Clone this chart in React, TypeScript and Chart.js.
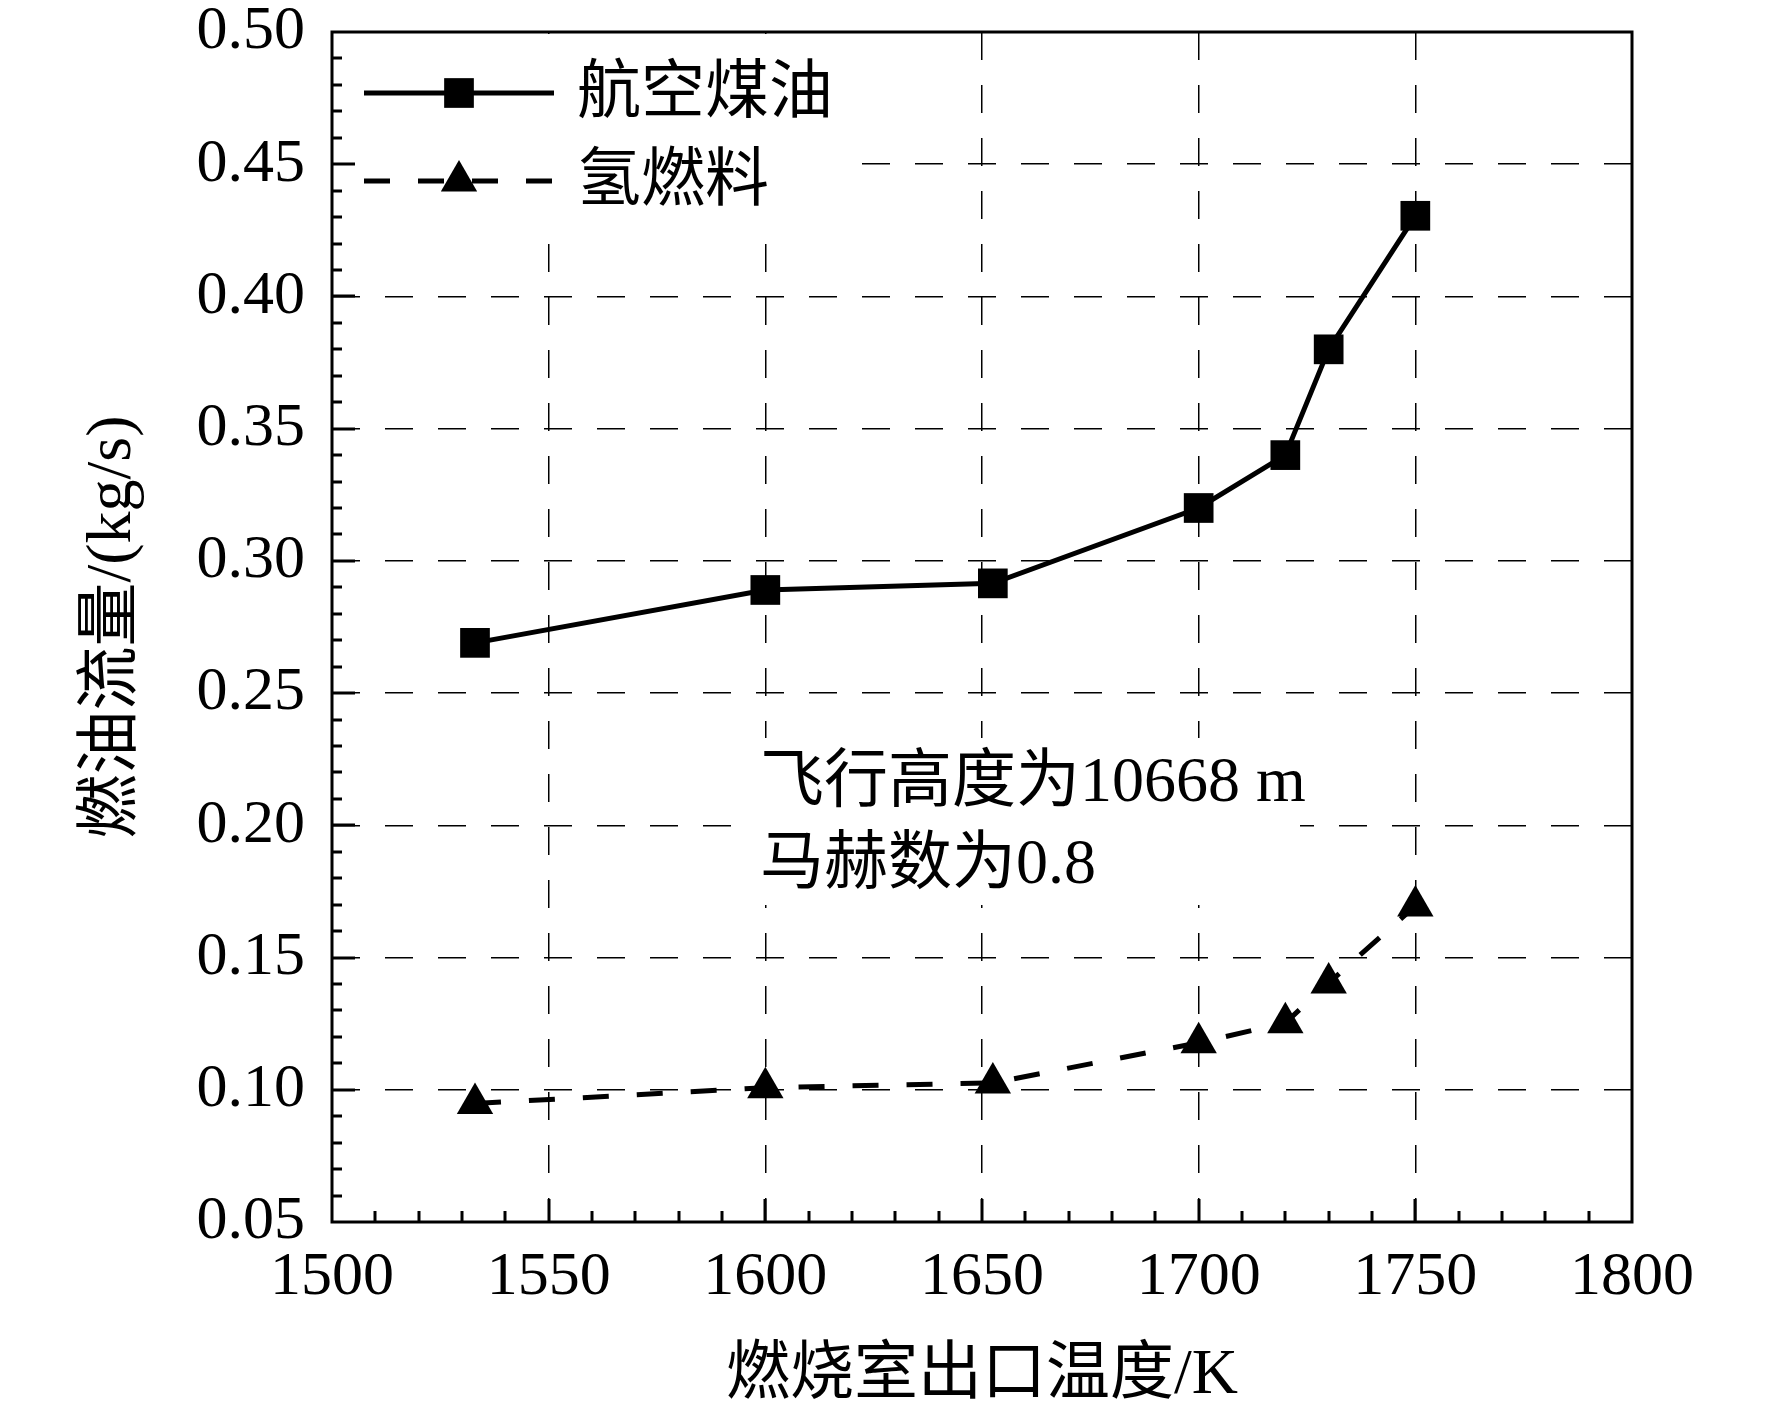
import React, { useEffect, useRef } from "react";
import { Chart, registerables } from "chart.js";

Chart.register(...registerables);

// ---------------- data ----------------
const temperatures = [1533, 1600, 1652.5, 1700, 1720, 1730, 1750];
const jetFuelFlow = [0.269, 0.289, 0.2915, 0.32, 0.34, 0.38, 0.4305];
const hydrogenFlow = [0.0948, 0.1008, 0.1026, 0.1178, 0.1253, 0.1404, 0.1695];

const seriesNames = ["航空煤油", "氢燃料"];
const xTitle = "燃烧室出口温度/K";
const yTitle = "燃油流量/(kg/s)";
const noteLines = ["飞行高度为10668 m", "马赫数为0.8"];

const xMin = 1500;
const xMax = 1800;
const xStep = 50;
const xMinorStep = 10;
const yMin = 0.05;
const yMax = 0.5;
const yStep = 0.05;
const yMinorStep = 0.01;

const FONT = '"Liberation Serif", "Times New Roman", "Noto Sans CJK SC", serif';

export default function App() {
  const canvasRef = useRef<HTMLCanvasElement | null>(null);

  useEffect(() => {
    const canvas = canvasRef.current;
    if (!canvas) return;

    const drawSquare = (ctx: CanvasRenderingContext2D, x: number, y: number, s: number) => {
      ctx.fillRect(x - s / 2, y - s / 2, s, s);
    };
    const drawTriangle = (ctx: CanvasRenderingContext2D, x: number, y: number, r: number) => {
      ctx.beginPath();
      ctx.moveTo(x, y - r);
      ctx.lineTo(x + r * Math.sin((2 * Math.PI) / 3), y - r * Math.cos((2 * Math.PI) / 3));
      ctx.lineTo(x - r * Math.sin((2 * Math.PI) / 3), y - r * Math.cos((2 * Math.PI) / 3));
      ctx.closePath();
      ctx.fill();
    };

    const decorPlugin = {
      id: "decor",
      beforeDatasetsDraw(chart: any) {
        const { ctx, chartArea } = chart;
        const { left, top } = chartArea;
        ctx.save();
        ctx.fillStyle = "#ffffff";
        // legend background
        ctx.fillRect(left + 4, top + 2, 524, 204);
        // note background
        ctx.fillRect(left + 423, top + 706, 545, 167);
        ctx.restore();
      },
      afterDatasetsDraw(chart: any) {
        const { ctx, chartArea, scales } = chart;
        const { left, right, top, bottom } = chartArea;
        const xs = scales.x;
        const ys = scales.y;
        ctx.save();
        // frame
        ctx.strokeStyle = "#000";
        ctx.lineWidth = 3;
        ctx.setLineDash([]);
        ctx.strokeRect(left, top, right - left, bottom - top);

        // inward ticks on x axis
        ctx.lineWidth = 3;
        ctx.beginPath();
        for (let v = xMin + xMinorStep; v < xMax; v += xMinorStep) {
          const px = Math.round(xs.getPixelForValue(v));
          const major = Math.abs(v / xStep - Math.round(v / xStep)) < 1e-6;
          const len = major ? 23 : 11;
          ctx.moveTo(px, bottom);
          ctx.lineTo(px, bottom - len);
        }
        // inward ticks on y axis
        const nY = Math.round((yMax - yMin) / yMinorStep);
        for (let i = 1; i < nY; i++) {
          const v = yMin + i * yMinorStep;
          const py = Math.round(ys.getPixelForValue(v));
          const major = i % Math.round(yStep / yMinorStep) === 0;
          const len = major ? 23 : 10;
          ctx.moveTo(left, py);
          ctx.lineTo(left + len, py);
        }
        ctx.stroke();

        // legend
        const ds = chart.data.datasets;
        const rows = [top + 61, top + 149];
        const lx0 = left + 32;
        const lx1 = left + 222;
        const mx = left + 127;
        rows.forEach((ry: number, i: number) => {
          const d = ds[i];
          ctx.strokeStyle = d.borderColor;
          ctx.fillStyle = d.pointBackgroundColor;
          ctx.lineWidth = d.borderWidth;
          ctx.setLineDash(d.borderDash || []);
          ctx.beginPath();
          ctx.moveTo(lx0, ry);
          ctx.lineTo(lx1, ry);
          ctx.stroke();
          ctx.setLineDash([]);
          if (d.pointStyle === "rect") drawSquare(ctx, mx, ry, d.pointRadius * Math.SQRT2);
          else drawTriangle(ctx, mx, ry, d.pointRadius);
          ctx.fillStyle = "#000";
          ctx.font = `64px ${FONT}`;
          ctx.textAlign = "left";
          ctx.textBaseline = "middle";
          ctx.fillText(d.label, left + 245, ry + 2);
        });

        // note
        ctx.fillStyle = "#000";
        ctx.font = `64px ${FONT}`;
        ctx.textAlign = "left";
        ctx.textBaseline = "middle";
        ctx.fillText(noteLines[0], left + 428, top + 752);
        ctx.fillText(noteLines[1], left + 428, top + 834);
        ctx.restore();
      },
    };

    const chart = new Chart(canvas, {
      type: "line",
      data: {
        datasets: [
          {
            label: seriesNames[0],
            data: temperatures.map((t, i) => ({ x: t, y: jetFuelFlow[i] })),
            borderColor: "#000",
            backgroundColor: "#000",
            borderWidth: 5,
            pointStyle: "rect",
            pointRadius: 21,
            pointHoverRadius: 21,
            pointBackgroundColor: "#000",
            pointBorderColor: "#000",
            pointBorderWidth: 0,
            tension: 0,
            fill: false,
          },
          {
            label: seriesNames[1],
            data: temperatures.map((t, i) => ({ x: t, y: hydrogenFlow[i] })),
            borderColor: "#000",
            backgroundColor: "#000",
            borderWidth: 5,
            borderDash: [26, 28],
            pointStyle: "triangle",
            pointRadius: 21,
            pointHoverRadius: 21,
            pointBackgroundColor: "#000",
            pointBorderColor: "#000",
            pointBorderWidth: 0,
            tension: 0,
            fill: false,
          },
        ] as any,
      },
      options: {
        animation: false,
        responsive: false,
        maintainAspectRatio: false,
        devicePixelRatio: 1,
        events: [],
        layout: { padding: { left: 0, top: 32, right: 140, bottom: 0 } },
        plugins: {
          legend: { display: false },
          tooltip: { enabled: false },
          title: { display: false },
        },
        scales: {
          x: {
            type: "linear",
            min: xMin,
            max: xMax,
            afterFit(scale: any) {
              scale.height = 199;
              scale.paddingLeft = 0;
              scale.paddingRight = 0;
              scale.paddingTop = 0;
              scale.paddingBottom = 0;
            },
            ticks: {
              stepSize: xStep,
              autoSkip: false,
              maxRotation: 0,
              padding: 19,
              color: "#000",
              font: { family: FONT, size: 62 },
              callback: (v: any) => String(v),
            },
            grid: {
              color: "#000",
              lineWidth: 1.5,
              drawTicks: false,
            },
            border: { display: false, dash: [28, 25] },
            title: {
              display: true,
              text: xTitle,
              color: "#000",
              font: { family: FONT, size: 64 },
              padding: { top: 0, bottom: 6 },
            },
          },
          y: {
            type: "linear",
            min: yMin,
            max: yMax,
            afterFit(scale: any) {
              scale.width = 332;
              scale.paddingLeft = 0;
              scale.paddingRight = 0;
              scale.paddingTop = 0;
              scale.paddingBottom = 0;
            },
            ticks: {
              stepSize: yStep,
              autoSkip: false,
              padding: 27,
              color: "#000",
              font: { family: FONT, size: 62 },
              callback: (v: any) => Number(v).toFixed(2),
            },
            grid: {
              color: "#000",
              lineWidth: 1.5,
              drawTicks: false,
            },
            border: { display: false, dash: [28, 25] },
            title: {
              display: true,
              text: yTitle,
              color: "#000",
              font: { family: FONT, size: 64 },
              padding: { top: 75, bottom: 0 },
            },
          },
        },
      } as any,
      plugins: [decorPlugin],
    });

    return () => {
      chart.destroy();
    };
  }, []);

  return (
    <div
      style={{
        position: "absolute",
        left: 0,
        top: 0,
        width: 1772,
        height: 1421,
        background: "#ffffff",
      }}
    >
      <canvas ref={canvasRef} width={1772} height={1421} style={{ width: 1772, height: 1421 }} />
    </div>
  );
}
